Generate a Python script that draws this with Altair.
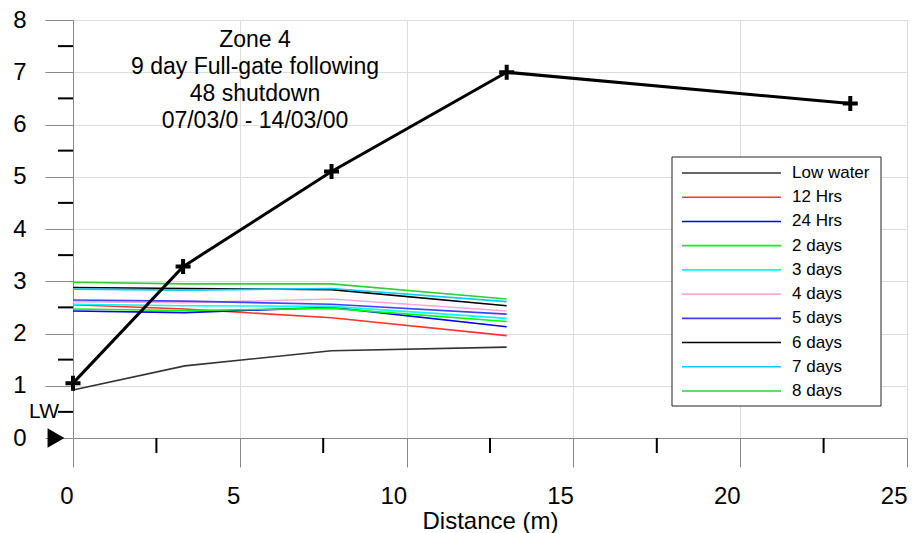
import altair as alt
import pandas as pd

# Chainage of the survey points (m)
distance = [0.0, 3.35, 7.75, 13.0]

series_names = ["Low water", "12 Hrs", "24 Hrs", "2 days", "3 days",
                "4 days", "5 days", "6 days", "7 days", "8 days"]
series_colors = ["#333333", "#ff3333", "#0000ff", "#00ff00", "#00ffff",
                 "#ffaad4", "#4040ff", "#000000", "#00ccff", "#33cc33"]

# Water levels at each chainage
low_water = [0.92, 1.38, 1.67, 1.74]
hrs_12 = [2.55, 2.47, 2.30, 1.96]
hrs_24 = [2.43, 2.40, 2.50, 2.13]
days_2 = [2.47, 2.44, 2.48, 2.23]
days_3 = [2.56, 2.53, 2.52, 2.29]
days_4 = [2.61, 2.59, 2.66, 2.43]
days_5 = [2.64, 2.62, 2.56, 2.37]
days_6 = [2.88, 2.86, 2.84, 2.53]
days_7 = [2.85, 2.83, 2.86, 2.61]
days_8 = [2.98, 2.95, 2.95, 2.66]
series_values = [low_water, hrs_12, hrs_24, days_2, days_3,
                 days_4, days_5, days_6, days_7, days_8]

# Bank profile
profile_distance = [0.0, 3.3, 7.75, 13.0, 23.3]
profile_level = [1.05, 3.28, 5.1, 7.0, 6.4]

x_major = [0, 5, 10, 15, 20, 25]
x_minor = [2.5, 7.5, 12.5, 17.5, 22.5]
y_major = [0, 1, 2, 3, 4, 5, 6, 7, 8]
y_minor = [0.5, 1.5, 2.5, 3.5, 4.5, 5.5, 6.5, 7.5]

title_lines = ["Zone 4", "9 day Full-gate following", "48 shutdown",
               "07/03/0 - 14/03/00"]

FONT = "Liberation Sans"

levels = pd.DataFrame(
    [{"distance": d, "level": v, "series": name}
     for name, vals in zip(series_names, series_values)
     for d, v in zip(distance, vals)]
)
profile = pd.DataFrame({"distance": profile_distance, "level": profile_level})
one_row = pd.DataFrame({"k": [0]})

x_scale = alt.Scale(domain=[0, 25], nice=False, zero=False)
y_scale = alt.Scale(domain=[0, 8], nice=False, zero=False)

x_axis = alt.Axis(values=x_major, title="Distance (m)", tickSize=29,
                  labelAlign="right", labelPadding=17,
                  labelFontSize=24, titleFontSize=24, titlePadding=1,
                  titleFontWeight="normal")
y_axis = alt.Axis(values=y_major, title=None, tickSize=28,
                  labelPadding=19, labelFontSize=24)

color_enc = alt.Color("series:N",
                      scale=alt.Scale(domain=series_names, range=series_colors),
                      legend=None)

lines = alt.Chart(levels).mark_line(strokeWidth=1.6).encode(
    x=alt.X("distance:Q", scale=x_scale, axis=x_axis),
    y=alt.Y("level:Q", scale=y_scale, axis=y_axis),
    color=color_enc,
)

profile_line = alt.Chart(profile).mark_line(color="black", strokeWidth=3).encode(
    x="distance:Q", y="level:Q"
)
profile_marks = alt.Chart(profile).mark_point(
    shape="M-1,0L1,0M0,-1L0,1", filled=False, size=225, strokeWidth=4,
    color="black", opacity=1
).encode(x="distance:Q", y="level:Q")

x_minor_ticks = alt.Chart(pd.DataFrame({"distance": x_minor})).mark_rule(
    color="black", strokeWidth=2
).encode(x="distance:Q", y=alt.value(418), y2=alt.value(433))

y_minor_ticks = alt.Chart(pd.DataFrame({"level": y_minor})).mark_rule(
    color="black", strokeWidth=2
).encode(y="level:Q", x=alt.value(-15), x2=alt.value(0))

# Low-water marker on the left axis
lw_arrow = alt.Chart(one_row).mark_point(
    shape="triangle-right", filled=True, size=380, color="black", opacity=1
).encode(x=alt.value(-17), y=alt.datum(0))
lw_text = alt.Chart(one_row).mark_text(
    text="LW", font=FONT, fontSize=21, align="right", baseline="middle",
    color="black"
).encode(x=alt.value(-14), y=alt.datum(0.5))

# Chart caption, first line centred at y
title_text = alt.Chart(one_row).mark_text(
    text=title_lines, font=FONT, fontSize=23, lineHeight=27,
    align="center", baseline="middle", color="black"
).encode(x=alt.value(182), y=alt.value(20))

main = alt.layer(lines, x_minor_ticks, y_minor_ticks, profile_line,
                 profile_marks, lw_arrow, lw_text, title_text)

# Legend box
legend_df = pd.DataFrame({"series": series_names})
leg_y = alt.Y("series:N",
              scale=alt.Scale(type="point", domain=series_names,
                              range=[153, 371], padding=0),
              axis=None)
legend_box = alt.Chart(one_row).mark_rect(
    fill="white", stroke="#222222", strokeWidth=1
).encode(x=alt.value(599), x2=alt.value(808), y=alt.value(137), y2=alt.value(386))
legend_lines = alt.Chart(legend_df).mark_rule(strokeWidth=1.6).encode(
    x=alt.value(609), x2=alt.value(708), y=leg_y, color=color_enc
)
legend_labels = alt.Chart(legend_df).mark_text(
    font=FONT, fontSize=17, align="left", baseline="middle", color="black"
).encode(x=alt.value(719), y=leg_y, text="series:N")
legend = alt.layer(legend_box, legend_lines, legend_labels)

chart = alt.layer(main, legend).resolve_scale(y="independent").properties(
    width=834, height=418,
    padding={"left": 73, "top": 20, "right": 5, "bottom": 95},
    autosize="none",
).configure_view(
    stroke="black", strokeWidth=2
).configure_axis(
    grid=False, domainColor="black", domainWidth=2, tickColor="black",
    tickWidth=2, labelColor="black", titleColor="black", labelFont=FONT,
    titleFont=FONT, titleFontWeight="normal"
).configure(background="white", font=FONT)

chart.save("out.html", embed_options={"renderer": "svg", "actions": False})
